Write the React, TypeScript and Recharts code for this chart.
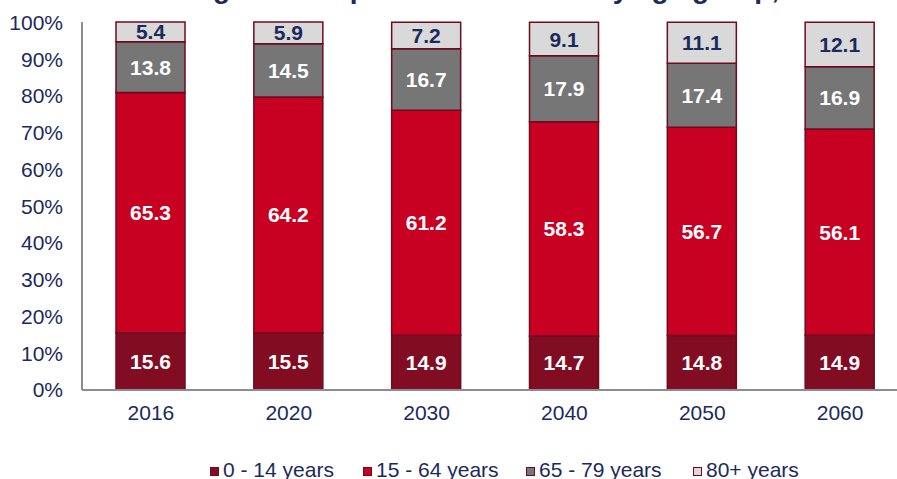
import React from 'react';
import { BarChart, Bar, XAxis, YAxis, LabelList } from 'recharts';

const years = ['2016', '2020', '2030', '2040', '2050', '2060'];
const age0to14 = [15.6, 15.5, 14.9, 14.7, 14.8, 14.9];
const age15to64 = [65.3, 64.2, 61.2, 58.3, 56.7, 56.1];
const age65to79 = [13.8, 14.5, 16.7, 17.9, 17.4, 16.9];
const age80plus = [5.4, 5.9, 7.2, 9.1, 11.1, 12.1];
const yTicks = [0, 10, 20, 30, 40, 50, 60, 70, 80, 90, 100];
const legendNames = ['0 - 14 years', '15 - 64 years', '65 - 79 years', '80+ years'];

const NAVY = '#1B2A5C';
const EDGE = '#6E0B1F';
const FONT = '"Liberation Sans", Arial, sans-serif';
const COLORS = ['#820C22', '#C80021', '#767676', '#D9D9D9'];
const LEGEND_X = [210, 363, 526, 693];

const data = years.map((year, i) => ({
  year,
  a: age0to14[i],
  b: age15to64[i],
  c: age65to79[i],
  d: age80plus[i],
}));

export default function App() {
  return (
    <div style={{ position: 'absolute', left: 0, top: 0, width: 897, height: 479, overflow: 'hidden', background: '#fff', fontFamily: FONT }}>
      {/* title sits mostly above the frame, only its lower edge shows */}
      <div
        style={{
          position: 'absolute',
          left: 188,
          top: -25,
          fontSize: 28,
          fontWeight: 'bold',
          color: NAVY,
          whiteSpace: 'nowrap',
          lineHeight: '28px',
        }}
      >
        Figure 1: Population structure by age group, EU-28
      </div>
      <BarChart
        width={920}
        height={479}
        data={data}
        margin={{ top: 22, right: 11, left: 0, bottom: 59 }}
        barSize={69}
      >
        <XAxis
          dataKey="year"
          height={30}
          tickLine={false}
          axisLine={{ stroke: '#8C8C93', strokeWidth: 2 }}
          tick={{ fill: NAVY, fontSize: 21 }}
          tickMargin={9}
        />
        <YAxis
          width={82}
          type="number"
          domain={[0, 100]}
          ticks={yTicks}
          tickFormatter={(v) => `${v}%`}
          tickLine={false}
          axisLine={{ stroke: '#8C8C93', strokeWidth: 2 }}
          tick={{ fill: NAVY, fontSize: 21 }}
          tickMargin={13}
        />
        <Bar dataKey="a" name={legendNames[0]} stackId="age" fill={COLORS[0]} stroke={EDGE} strokeWidth={1.5} isAnimationActive={false}>
          <LabelList dataKey="a" position="center" fill="#FFFFFF" fontSize={21} fontWeight="bold" />
        </Bar>
        <Bar dataKey="b" name={legendNames[1]} stackId="age" fill={COLORS[1]} stroke={EDGE} strokeWidth={1.5} isAnimationActive={false}>
          <LabelList dataKey="b" position="center" fill="#FFFFFF" fontSize={21} fontWeight="bold" />
        </Bar>
        <Bar dataKey="c" name={legendNames[2]} stackId="age" fill={COLORS[2]} stroke={EDGE} strokeWidth={1.5} isAnimationActive={false}>
          <LabelList dataKey="c" position="center" fill="#FFFFFF" fontSize={21} fontWeight="bold" />
        </Bar>
        <Bar dataKey="d" name={legendNames[3]} stackId="age" fill={COLORS[3]} stroke={EDGE} strokeWidth={1.5} isAnimationActive={false}>
          <LabelList dataKey="d" position="center" fill={NAVY} fontSize={21} fontWeight="bold" />
        </Bar>
      </BarChart>
      {legendNames.map((name, i) => (
        <div
          key={name}
          style={{
            position: 'absolute',
            left: LEGEND_X[i],
            top: 459,
            display: 'flex',
            alignItems: 'center',
            fontSize: 21,
            lineHeight: '21px',
            color: NAVY,
            whiteSpace: 'nowrap',
          }}
        >
          <span
            style={{
              display: 'inline-block',
              position: 'relative',
              top: 2,
              width: 7,
              height: 7,
              background: COLORS[i],
              border: `1.5px solid ${EDGE}`,
              marginRight: 4,
            }}
          />
          <span>{name}</span>
        </div>
      ))}
    </div>
  );
}
